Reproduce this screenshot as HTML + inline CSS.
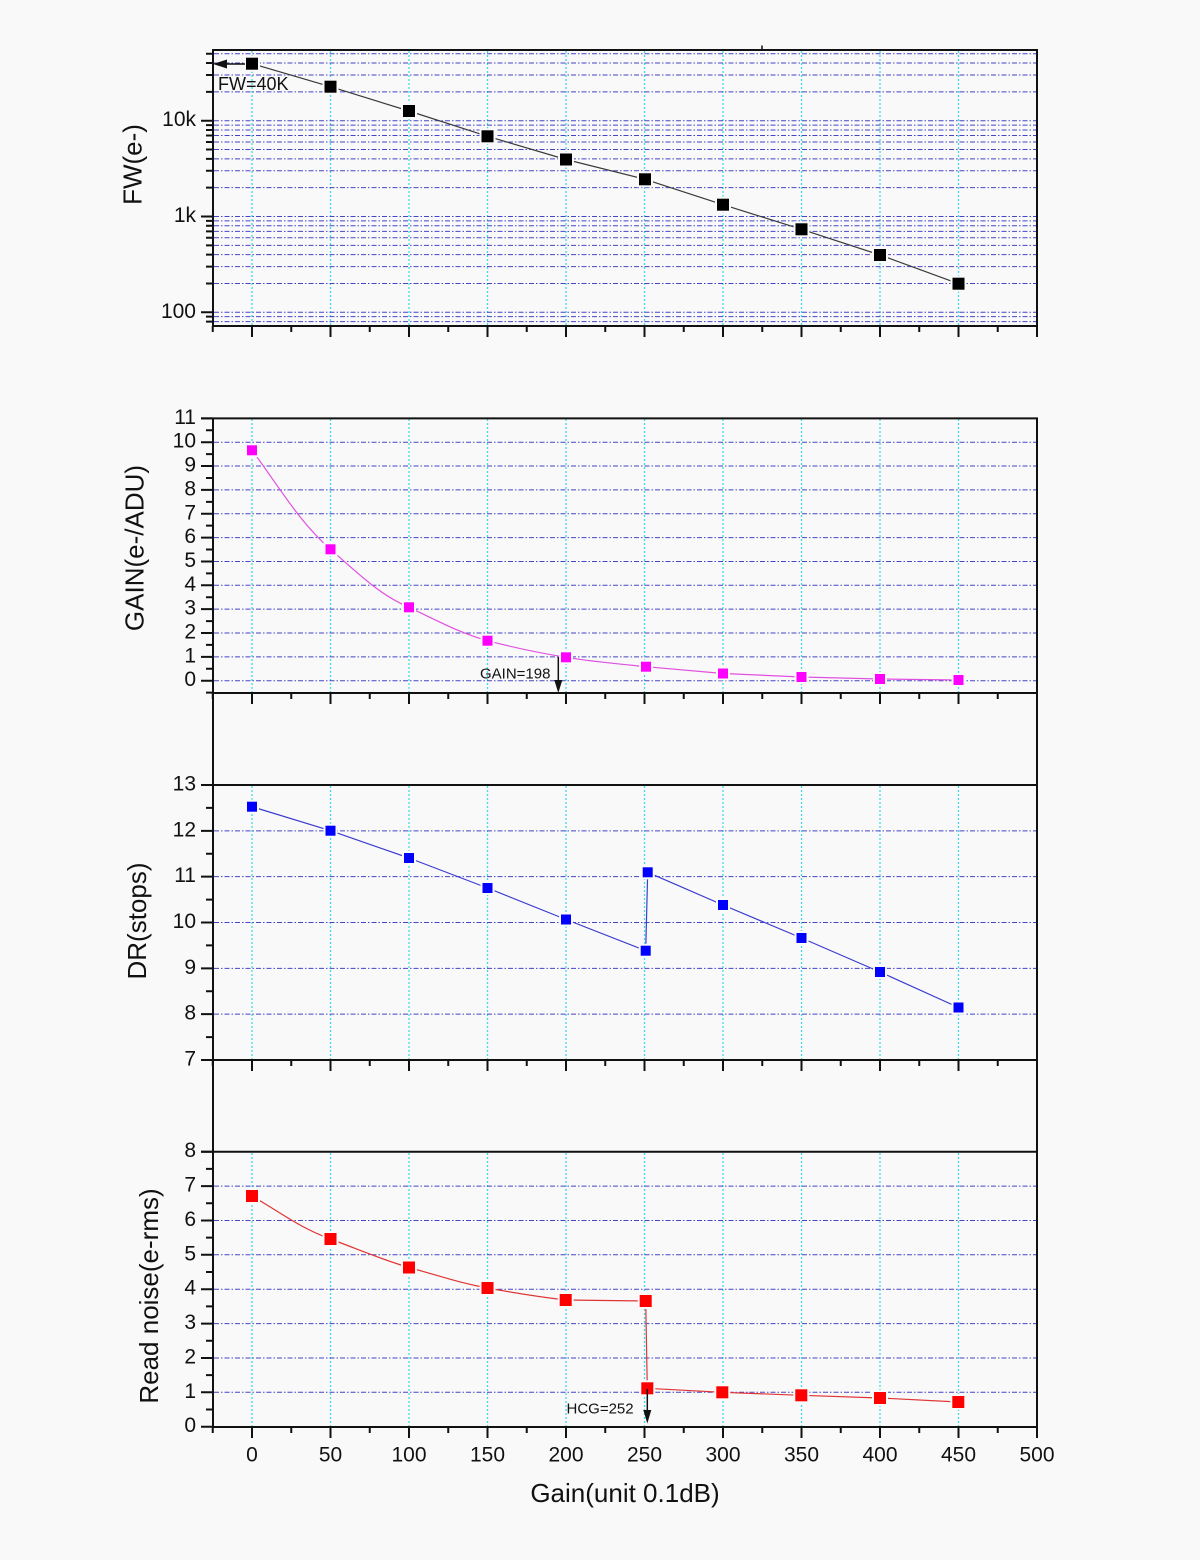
<!DOCTYPE html>
<html><head><meta charset="utf-8"><style>
html,body{margin:0;padding:0;background:#f9f9f9;}
svg{display:block;}
text{font-family:"Liberation Sans",Arial,sans-serif;fill:#111;}
</style></head><body>
<svg width="1200" height="1560" viewBox="0 0 1200 1560" xmlns="http://www.w3.org/2000/svg">
<rect width="1200" height="1560" fill="#f9f9f9"/>

<g stroke="#3fdbec" stroke-width="1.3" stroke-dasharray="2 2" fill="none">
<path d="M252 51V325M330.5 51V325M409 51V325M487.5 51V325M566 51V325M644.5 51V325M723 51V325M801.5 51V325M880 51V325M958.5 51V325"/>
<path d="M252 419V692M330.5 419V692M409 419V692M487.5 419V692M566 419V692M644.5 419V692M723 419V692M801.5 419V692M880 419V692M958.5 419V692"/>
<path d="M252 786V1059M330.5 786V1059M409 786V1059M487.5 786V1059M566 786V1059M644.5 786V1059M723 786V1059M801.5 786V1059M880 786V1059M958.5 786V1059"/>
<path d="M252 1153V1426M330.5 1153V1426M409 1153V1426M487.5 1153V1426M566 1153V1426M644.5 1153V1426M723 1153V1426M801.5 1153V1426M880 1153V1426M958.5 1153V1426"/>
</g>

<g stroke="#4545c8" stroke-width="1" stroke-dasharray="5 2 1.5 2" fill="none">
<path d="M214 53.74H1036M214 63.02H1036M214 74.99H1036M214 91.86H1036M214 120.7H1036M214 125.08H1036M214 129.98H1036M214 135.54H1036M214 141.95H1036M214 149.54H1036M214 158.82H1036M214 170.79H1036M214 187.66H1036M214 216.5H1036M214 220.88H1036M214 225.78H1036M214 231.34H1036M214 237.75H1036M214 245.34H1036M214 254.62H1036M214 266.59H1036M214 283.46H1036M214 312.3H1036M214 316.68H1036M214 321.58H1036"/>
<path d="M214 680.7H1036M214 656.85H1036M214 633H1036M214 609.15H1036M214 585.3H1036M214 561.45H1036M214 537.6H1036M214 513.75H1036M214 489.9H1036M214 466.05H1036M214 442.2H1036"/>
<path d="M214 1014.17H1036M214 968.33H1036M214 922.5H1036M214 876.67H1036M214 830.83H1036"/>
<path d="M214 1392.3H1036M214 1357.95H1036M214 1323.6H1036M214 1289.2H1036M214 1254.8H1036M214 1220.45H1036M214 1186.1H1036"/>
</g>

<g stroke="#111" stroke-width="2" fill="none">
<path d="M213 49V326M1037 50V326M212 50H1038M212 326H1038"/>
<path d="M213 418V785M1037 418V785M201 418.35H1038M212 693H1038"/>
<path d="M213 785V1152M1037 785V1152M201 785H1038M212 1060H1038"/>
<path d="M213 1151.7V1427M1037 1151.7V1427M201 1151.7H1038M212 1427H1038"/>
<path d="M762 45.5V50" stroke-width="1.5"/>
</g>

<g stroke="#111" stroke-width="2" fill="none">
<path d="M201 312.3H213M201 216.5H213M201 120.7H213"/>
<path d="M206 53.74H213M206 63.02H213M206 74.99H213M206 91.86H213M206 125.08H213M206 129.98H213M206 135.54H213M206 141.95H213M206 149.54H213M206 158.82H213M206 170.79H213M206 187.66H213M206 220.88H213M206 225.78H213M206 231.34H213M206 237.75H213M206 245.34H213M206 254.62H213M206 266.59H213M206 283.46H213M206 316.68H213M206 321.58H213"/>
<path d="M201 680.7H213M201 656.85H213M201 633H213M201 609.15H213M201 585.3H213M201 561.45H213M201 537.6H213M201 513.75H213M201 489.9H213M201 466.05H213M201 442.2H213M201 418.35H213"/>
<path d="M206 692.6H213M206 668.78H213M206 644.93H213M206 621.08H213M206 597.23H213M206 573.38H213M206 549.53H213M206 525.68H213M206 501.83H213M206 477.98H213M206 454.13H213M206 430.28H213"/>
<path d="M201 1060H213M201 1014.17H213M201 968.33H213M201 922.5H213M201 876.67H213M201 830.83H213M201 785H213"/>
<path d="M206 1037.08H213M206 991.25H213M206 945.42H213M206 899.58H213M206 853.75H213M206 807.92H213"/>
<path d="M201 1426.7H213M201 1392.3H213M201 1357.95H213M201 1323.6H213M201 1289.2H213M201 1254.8H213M201 1220.45H213M201 1186.1H213M201 1151.7H213"/>
<path d="M206 1409.5H213M206 1375.1H213M206 1340.8H213M206 1306.4H213M206 1272H213M206 1237.6H213M206 1203.3H213M206 1168.9H213"/>
</g>

<g stroke="#111" stroke-width="2" fill="none">
<g transform="translate(0,326)"><path d="M252 0v11M330.5 0v11M409 0v11M487.5 0v11M566 0v11M644.5 0v11M723 0v11M801.5 0v11M880 0v11M958.5 0v11M1037 0v11M212.75 0v6M291.25 0v6M369.75 0v6M448.25 0v6M526.75 0v6M605.25 0v6M683.75 0v6M762.25 0v6M840.75 0v6M919.25 0v6M997.75 0v6"/></g>
<g transform="translate(0,693)"><path d="M252 0v11M330.5 0v11M409 0v11M487.5 0v11M566 0v11M644.5 0v11M723 0v11M801.5 0v11M880 0v11M958.5 0v11M1037 0v11M212.75 0v6M291.25 0v6M369.75 0v6M448.25 0v6M526.75 0v6M605.25 0v6M683.75 0v6M762.25 0v6M840.75 0v6M919.25 0v6M997.75 0v6"/></g>
<g transform="translate(0,1060)"><path d="M252 0v11M330.5 0v11M409 0v11M487.5 0v11M566 0v11M644.5 0v11M723 0v11M801.5 0v11M880 0v11M958.5 0v11M1037 0v11M212.75 0v6M291.25 0v6M369.75 0v6M448.25 0v6M526.75 0v6M605.25 0v6M683.75 0v6M762.25 0v6M840.75 0v6M919.25 0v6M997.75 0v6"/></g>
<g transform="translate(0,1427)"><path d="M252 0v11M330.5 0v11M409 0v11M487.5 0v11M566 0v11M644.5 0v11M723 0v11M801.5 0v11M880 0v11M958.5 0v11M1037 0v11M212.75 0v6M291.25 0v6M369.75 0v6M448.25 0v6M526.75 0v6M605.25 0v6M683.75 0v6M762.25 0v6M840.75 0v6M919.25 0v6M997.75 0v6"/></g>
</g>

<g font-size="21" text-anchor="end">
<text x="196" y="126.2">10k</text>
<text x="196" y="222">1k</text>
<text x="196" y="317.8">100</text>

<text x="196" y="686.2">0</text>
<text x="196" y="662.35">1</text>
<text x="196" y="638.5">2</text>
<text x="196" y="614.65">3</text>
<text x="196" y="590.8">4</text>
<text x="196" y="566.95">5</text>
<text x="196" y="543.1">6</text>
<text x="196" y="519.25">7</text>
<text x="196" y="495.4">8</text>
<text x="196" y="471.55">9</text>
<text x="196" y="447.7">10</text>
<text x="196" y="423.85">11</text>

<text x="196" y="1065.5">7</text>
<text x="196" y="1019.67">8</text>
<text x="196" y="973.83">9</text>
<text x="196" y="928">10</text>
<text x="196" y="882.17">11</text>
<text x="196" y="836.33">12</text>
<text x="196" y="790.5">13</text>

<text x="196" y="1432.2">0</text>
<text x="196" y="1397.8">1</text>
<text x="196" y="1363.45">2</text>
<text x="196" y="1329.1">3</text>
<text x="196" y="1294.7">4</text>
<text x="196" y="1260.3">5</text>
<text x="196" y="1225.95">6</text>
<text x="196" y="1191.6">7</text>
<text x="196" y="1157.2">8</text>
</g>
<g font-size="21" text-anchor="middle">
<text x="252" y="1461.5">0</text>
<text x="330.5" y="1461.5">50</text>
<text x="409" y="1461.5">100</text>
<text x="487.5" y="1461.5">150</text>
<text x="566" y="1461.5">200</text>
<text x="644.5" y="1461.5">250</text>
<text x="723" y="1461.5">300</text>
<text x="801.5" y="1461.5">350</text>
<text x="880" y="1461.5">400</text>
<text x="958.5" y="1461.5">450</text>
<text x="1037" y="1461.5">500</text>
</g>

<g font-size="26" text-anchor="middle">
<text x="625" y="1502">Gain(unit 0.1dB)</text>
<text transform="translate(141.5,164.5) rotate(-90)">FW(e-)</text>
<text transform="translate(143.5,548) rotate(-90)">GAIN(e-/ADU)</text>
<text transform="translate(146,921) rotate(-90)">DR(stops)</text>
<text transform="translate(158,1296) rotate(-90)">Read noise(e-rms)</text>
</g>

<g fill="none" stroke-linejoin="round">
<polyline stroke="#3a3a3a" stroke-width="1.2" points="252,63.7 330.5,86.7 409,111 487.5,136.3 566,159.5 645,179.3 723,204.7 801.5,229.3 880,255 958.5,283.7"/>
<path stroke="#e050e0" stroke-width="1.2" d="M252 450.3 C280 488 300 523 330.5 549.3 C360 575 380 595 409 607.3 C440 622 460 633 487.5 640.7 C515 648 540 653 566 657.3 C595 662 620 664 646 666.7 L723 673.5 L801.5 677 L880 679 L958.5 680"/>
<polyline stroke="#3c3cd0" stroke-width="1.2" points="252,806.7 330.5,830.7 409,858 487.5,888 566,919.5 645.7,950.7 647.7,872.3 723,905 801.5,938 880,972 958.5,1007.5"/>
<path stroke="#e03434" stroke-width="1.2" d="M252 1196 C280 1212 300 1228 330.5 1239 C360 1250 380 1259 409 1267.5 C440 1276 460 1283 487.5 1288 C515 1293 540 1297 565.7 1300 L645.7 1301 L647.3 1388.3 L722.3 1392.3 L801.3 1395.3 L880 1398 L958.3 1402"/>
</g>

<g stroke="#f9f9f9" stroke-width="4" paint-order="stroke">
<g fill="#000">
<rect x="246" y="57.7" width="12" height="12"/>
<rect x="324.5" y="80.7" width="12" height="12"/>
<rect x="403" y="105" width="12" height="12"/>
<rect x="481.5" y="130.3" width="12" height="12"/>
<rect x="560" y="153.5" width="12" height="12"/>
<rect x="639" y="173.3" width="12" height="12"/>
<rect x="717" y="198.7" width="12" height="12"/>
<rect x="795.5" y="223.3" width="12" height="12"/>
<rect x="874" y="249" width="12" height="12"/>
<rect x="952.5" y="277.7" width="12" height="12"/>
</g>
<g fill="#ff00ff">
<rect x="247" y="445.3" width="10" height="10"/>
<rect x="325.5" y="544.3" width="10" height="10"/>
<rect x="404" y="602.3" width="10" height="10"/>
<rect x="482.5" y="635.7" width="10" height="10"/>
<rect x="561" y="652.3" width="10" height="10"/>
<rect x="641" y="661.7" width="10" height="10"/>
<rect x="718" y="668.5" width="10" height="10"/>
<rect x="796.5" y="672" width="10" height="10"/>
<rect x="875" y="674" width="10" height="10"/>
<rect x="953.5" y="675" width="10" height="10"/>
</g>
<g fill="#0000ff">
<rect x="247" y="801.7" width="10" height="10"/>
<rect x="325.5" y="825.7" width="10" height="10"/>
<rect x="404" y="853" width="10" height="10"/>
<rect x="482.5" y="883" width="10" height="10"/>
<rect x="561" y="914.5" width="10" height="10"/>
<rect x="640.7" y="945.7" width="10" height="10"/>
<rect x="642.7" y="867.3" width="10" height="10"/>
<rect x="718" y="900" width="10" height="10"/>
<rect x="796.5" y="933" width="10" height="10"/>
<rect x="875" y="967" width="10" height="10"/>
<rect x="953.5" y="1002.5" width="10" height="10"/>
</g>
<g fill="#ff0000">
<rect x="246" y="1190" width="12" height="12"/>
<rect x="324.5" y="1233" width="12" height="12"/>
<rect x="403" y="1261.5" width="12" height="12"/>
<rect x="481.5" y="1282" width="12" height="12"/>
<rect x="559.7" y="1294" width="12" height="12"/>
<rect x="639.7" y="1295" width="12" height="12"/>
<rect x="641.3" y="1382.3" width="12" height="12"/>
<rect x="716.3" y="1386.3" width="12" height="12"/>
<rect x="795.3" y="1389.3" width="12" height="12"/>
<rect x="874" y="1392" width="12" height="12"/>
<rect x="952.3" y="1396" width="12" height="12"/>
</g>
</g>

<g stroke="#111" stroke-width="1.5" fill="none">
<path d="M245 64H224"/>
<path d="M558.3 657V682"/>
<path d="M647.3 1389V1412"/>
</g>
<g fill="#111">
<polygon points="213,64 227,59.5 227,68.5"/>
<polygon points="558.3,693 554.3,680 562.3,680"/>
<polygon points="647.3,1423.5 643.3,1410 651.3,1410"/>
</g>
<text x="218" y="90" font-size="18">FW=40K</text>
<text x="480" y="678.3" font-size="15">GAIN=198</text>
<text x="566.5" y="1413.3" font-size="15">HCG=252</text>
</svg>
</body></html>
